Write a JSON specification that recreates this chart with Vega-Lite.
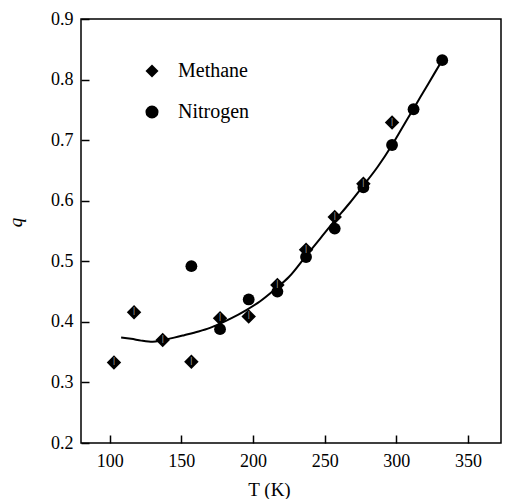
{
  "$schema": "https://vega.github.io/schema/vega-lite/v6.json",
  "width": 420,
  "height": 424,
  "autosize": {"type": "none"},
  "padding": {"left": 81, "top": 19, "right": 6, "bottom": 56},
  "background": "white",
  "config": {
    "view": {"stroke": "black", "strokeWidth": 1.5},
    "font": "Liberation Serif",
    "axis": {"labelOverlap": false, "labelFlush": false, "grid": false, "domain": false},
    "legend": {
      "orient": "none",
      "legendX": 61,
      "legendY": 42,
      "title": null,
      "labelFont": "Liberation Serif",
      "labelFontSize": 20,
      "labelColor": "black",
      "symbolSize": 170,
      "labelOffset": 16,
      "rowPadding": 21,
      "padding": 0,
      "symbolStrokeWidth": 0
    }
  },
  "datasets": {
    "curve": [
      {"T": 108, "q": 0.374}, {"T": 115, "q": 0.372}, {"T": 122, "q": 0.369}, {"T": 130, "q": 0.367},
      {"T": 137, "q": 0.370}, {"T": 145, "q": 0.374}, {"T": 152, "q": 0.378}, {"T": 162, "q": 0.384},
      {"T": 170, "q": 0.390}, {"T": 177, "q": 0.397}, {"T": 185, "q": 0.406}, {"T": 195, "q": 0.419},
      {"T": 205, "q": 0.434}, {"T": 216, "q": 0.455}, {"T": 225, "q": 0.474}, {"T": 237, "q": 0.509},
      {"T": 247, "q": 0.538}, {"T": 257, "q": 0.567}, {"T": 267, "q": 0.595}, {"T": 277, "q": 0.625},
      {"T": 287, "q": 0.656}, {"T": 297, "q": 0.692}, {"T": 304, "q": 0.720}, {"T": 312, "q": 0.752},
      {"T": 322, "q": 0.792}, {"T": 332, "q": 0.832}
    ],
    "methane": [
      {"T": 103, "q": 0.333, "gas": "Methane"}, {"T": 117, "q": 0.416, "gas": "Methane"},
      {"T": 137, "q": 0.370, "gas": "Methane"}, {"T": 157, "q": 0.334, "gas": "Methane"},
      {"T": 177, "q": 0.406, "gas": "Methane"}, {"T": 197, "q": 0.409, "gas": "Methane"},
      {"T": 217, "q": 0.461, "gas": "Methane"}, {"T": 237, "q": 0.519, "gas": "Methane"},
      {"T": 257, "q": 0.573, "gas": "Methane"}, {"T": 277, "q": 0.628, "gas": "Methane"},
      {"T": 297, "q": 0.729, "gas": "Methane"}
    ],
    "nitrogen": [
      {"T": 157, "q": 0.492, "gas": "Nitrogen"}, {"T": 177, "q": 0.388, "gas": "Nitrogen"},
      {"T": 197, "q": 0.437, "gas": "Nitrogen"}, {"T": 217, "q": 0.450, "gas": "Nitrogen"},
      {"T": 237, "q": 0.507, "gas": "Nitrogen"}, {"T": 257, "q": 0.554, "gas": "Nitrogen"},
      {"T": 277, "q": 0.622, "gas": "Nitrogen"}, {"T": 297, "q": 0.692, "gas": "Nitrogen"},
      {"T": 312, "q": 0.751, "gas": "Nitrogen"}, {"T": 332, "q": 0.832, "gas": "Nitrogen"}
    ]
  },
  "layer": [
    {
      "data": {"name": "curve"},
      "mark": {"type": "line", "color": "black", "strokeWidth": 2, "interpolate": "monotone"},
      "encoding": {
        "x": {
          "field": "T", "type": "quantitative",
          "scale": {"domain": [80, 373], "nice": false, "zero": false},
          "axis": {
            "orient": "bottom", "grid": false, "domain": false,
            "tickColor": "black", "tickWidth": 1.5, "tickSize": -8,
            "values": [100, 150, 200, 250, 300, 350],
            "labelColor": "black", "labelFontSize": 18, "labelFont": "Liberation Serif", "labelPadding": 17,
            "labelOverlap": false, "labelFlush": false,
            "title": "T (K)", "titleFontWeight": "normal", "titleFontSize": 19, "titleColor": "black", "titleFont": "Liberation Serif",
            "titleX": 188, "titleY": 46, "titleAlign": "center", "titleBaseline": "middle"
          }
        },
        "y": {
          "field": "q", "type": "quantitative",
          "scale": {"domain": [0.2, 0.9], "nice": false, "zero": false},
          "axis": {
            "orient": "left", "grid": false, "domain": false,
            "tickColor": "black", "tickWidth": 1.5, "tickSize": -8,
            "values": [0.2, 0.3, 0.4, 0.5, 0.6, 0.7, 0.8, 0.9],
            "format": ".1f",
            "labelColor": "black", "labelFontSize": 18, "labelFont": "Liberation Serif", "labelPadding": 16,
            "labelOverlap": false, "labelFlush": false,
            "title": "q", "titleFontStyle": "italic", "titleFontWeight": "normal", "titleFontSize": 19, "titleColor": "black", "titleFont": "Liberation Serif",
            "titleX": -66, "titleY": 203, "titleAlign": "center", "titleBaseline": "middle"
          }
        }
      }
    },
    {
      "data": {"name": "methane"},
      "mark": {"type": "point", "filled": true, "opacity": 1, "size": 210},
      "encoding": {
        "x": {"field": "T", "type": "quantitative"},
        "y": {"field": "q", "type": "quantitative"},
        "color": {"field": "gas", "type": "nominal", "scale": {"domain": ["Methane", "Nitrogen"], "range": ["black", "black"]}},
        "shape": {"field": "gas", "type": "nominal", "scale": {"domain": ["Methane", "Nitrogen"], "range": ["diamond", "circle"]}}
      }
    },
    {
      "data": {"name": "nitrogen"},
      "mark": {"type": "point", "filled": true, "opacity": 1, "size": 140},
      "encoding": {
        "x": {"field": "T", "type": "quantitative"},
        "y": {"field": "q", "type": "quantitative"},
        "color": {"field": "gas", "type": "nominal"},
        "shape": {"field": "gas", "type": "nominal"}
      }
    },
    {
      "data": {"name": "methane"},
      "mark": {"type": "text", "text": "|", "color": "white", "fontSize": 8, "baseline": "middle", "align": "center", "dy": -1},
      "encoding": {
        "x": {"field": "T", "type": "quantitative"},
        "y": {"field": "q", "type": "quantitative"}
      }
    }
  ]
}
